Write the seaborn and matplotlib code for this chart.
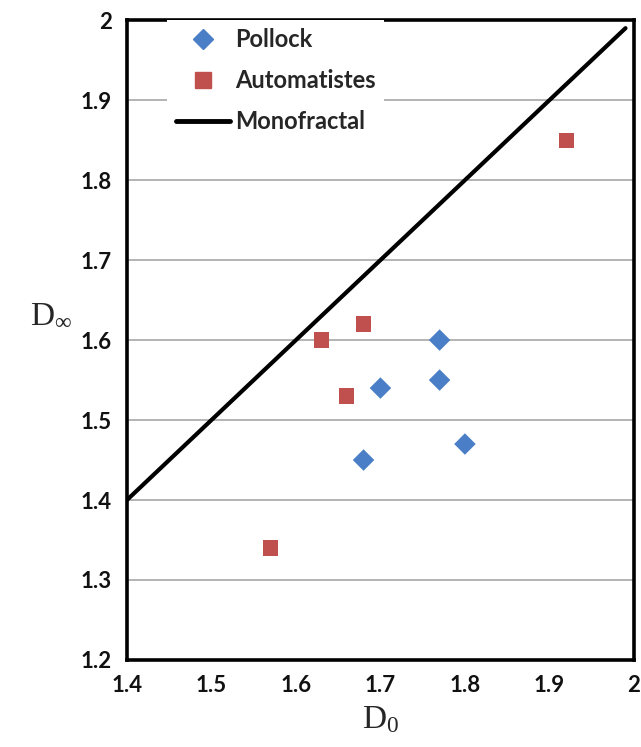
import matplotlib
matplotlib.use("Agg")
import matplotlib.pyplot as plt
import seaborn as sns
import pandas as pd
from matplotlib.lines import Line2D

pollock_x = [1.77, 1.77, 1.70, 1.68, 1.80]
pollock_y = [1.60, 1.55, 1.54, 1.45, 1.47]
auto_x = [1.63, 1.68, 1.66, 1.57, 1.92]
auto_y = [1.60, 1.62, 1.53, 1.34, 1.85]
mono_x = [1.40, 1.99]
mono_y = [1.40, 1.99]
x_ticks = [1.4, 1.5, 1.6, 1.7, 1.8, 1.9, 2.0]
x_labels = ["1.4", "1.5", "1.6", "1.7", "1.8", "1.9", "2"]
y_ticks = [1.2, 1.3, 1.4, 1.5, 1.6, 1.7, 1.8, 1.9, 2.0]
y_labels = ["1.2", "1.3", "1.4", "1.5", "1.6", "1.7", "1.8", "1.9", "2"]

sns.set_theme(style="white")
plt.rcParams['font.family'] = ['Lato', 'DejaVu Sans']
plt.rcParams['mathtext.fontset'] = 'custom'
plt.rcParams['mathtext.rm'] = 'Liberation Serif'
plt.rcParams['mathtext.it'] = 'Liberation Serif'

df = pd.DataFrame({
    "x": pollock_x + auto_x,
    "y": pollock_y + auto_y,
    "group": ["Pollock"] * len(pollock_x) + ["Automatistes"] * len(auto_x),
})

blue = "#4A7EC6"
red = "#C0504D"

fig = plt.figure(figsize=(6.41, 7.47), dpi=100)
ax = fig.add_axes([0.198, 0.1165, 0.791, 0.8565])

for yv in y_ticks[1:-1]:
    ax.axhline(yv, color="#b3b3b3", lw=1.4, zorder=0)

sns.lineplot(x=mono_x, y=mono_y, ax=ax, color="black", lw=3, zorder=2, legend=False)
sns.scatterplot(data=df, x="x", y="y", hue="group", style="group",
                palette={"Pollock": blue, "Automatistes": red},
                markers={"Pollock": "D", "Automatistes": "s"},
                s=120, edgecolor="none", ax=ax, legend=False, zorder=3)

ax.set_xlim(1.4, 2.0)
ax.set_ylim(1.2, 2.0)
ax.set_xticks(x_ticks)
ax.set_xticklabels(x_labels, fontsize=16, fontweight="bold")
ax.set_yticks(y_ticks)
ax.set_yticklabels(y_labels, fontsize=16, fontweight="bold")
ax.tick_params(axis="both", length=0, pad=11, colors="#111111")
for sp in ax.spines.values():
    sp.set_visible(True)
    sp.set_color("black")
    sp.set_linewidth(2.6)

ax.set_xlabel(r"D$_0$", fontsize=24, labelpad=6, family="Liberation Serif")
ax.set_ylabel(r"D$_\infty$", fontsize=24, rotation=0, family="Liberation Serif")
ax.yaxis.set_label_coords(-0.15, 0.515)

handles = [
    Line2D([], [], marker="D", color=blue, ls="none", markersize=10),
    Line2D([], [], marker="s", color=red, ls="none", markersize=12),
    Line2D([], [], color="black", lw=3.5),
]
leg = ax.legend(handles, ["Pollock", "Automatistes", "Monofractal"],
                loc="upper left", bbox_to_anchor=(0.08, 1.0), borderaxespad=0,
                frameon=True, handlelength=2.3, handletextpad=0.2,
                labelspacing=0.75, borderpad=0.35,
                framealpha=1, edgecolor="white", fancybox=False,
                prop={"family": "Lato", "weight": "bold", "size": 17})
leg.get_frame().set_linewidth(0)

fig.savefig("out.png", dpi=100)
